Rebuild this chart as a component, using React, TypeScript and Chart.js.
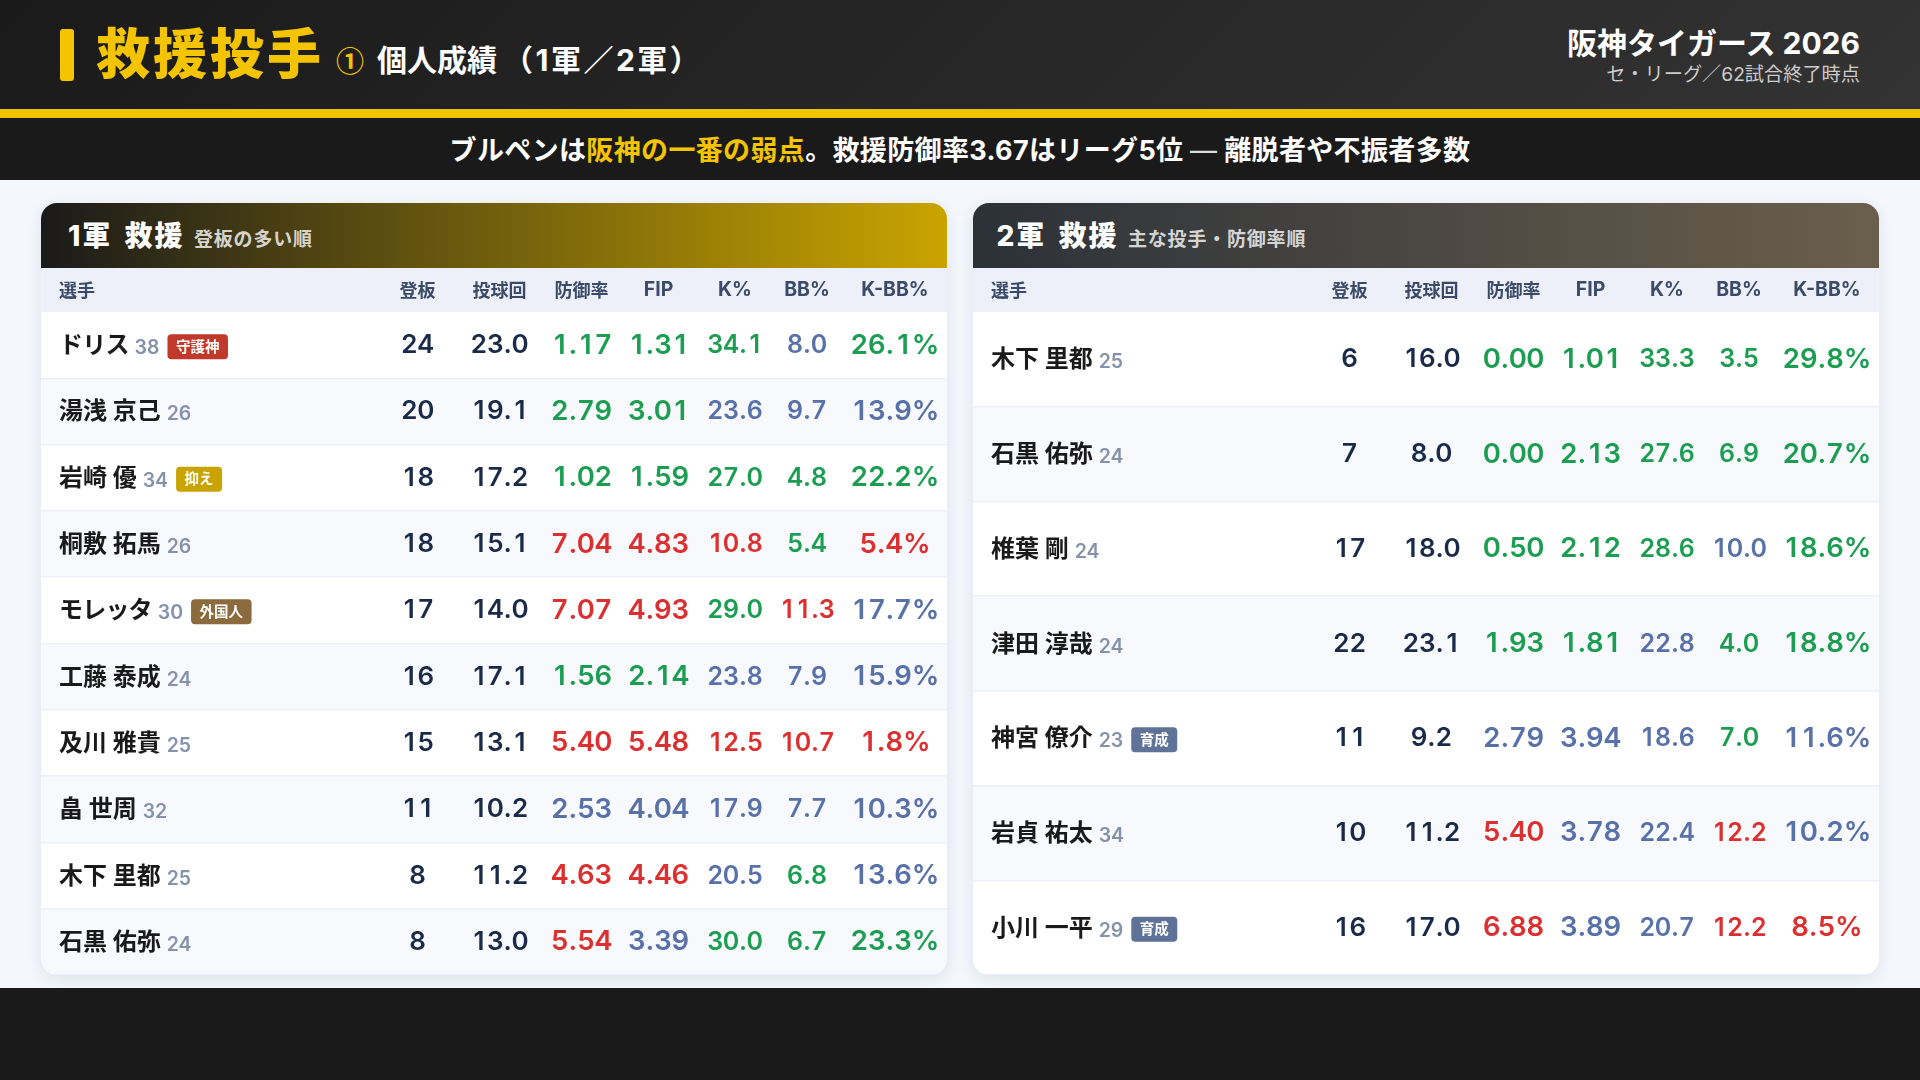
import { useEffect, useRef } from 'react'
import { Chart, registerables, type ChartConfiguration, type Plugin } from 'chart.js'

Chart.register(...registerables)

const FONT = 'Inter, "Noto Sans CJK JP", sans-serif'

const headers = ['選手', '登板', '投球回', '防御率', 'FIP', 'K%', 'BB%', 'K-BB%']

// g = good, b = average, r = bad, one letter per stat column
const firstPlayers = ['ドリス', '湯浅 京己', '岩崎 優', '桐敷 拓馬', 'モレッタ', '工藤 泰成', '及川 雅貴', '畠 世周', '木下 里都', '石黒 佑弥']
const firstAges = [38, 26, 34, 26, 30, 24, 25, 32, 25, 24]
const firstTags = ['守護神', '', '抑え', '', '外国人', '', '', '', '', '']
const firstGames = [24, 20, 18, 18, 17, 16, 15, 11, 8, 8]
const firstInnings = ['23.0', '19.1', '17.2', '15.1', '14.0', '17.1', '13.1', '10.2', '11.2', '13.0']
const firstEra = ['1.17', '2.79', '1.02', '7.04', '7.07', '1.56', '5.40', '2.53', '4.63', '5.54']
const firstFip = ['1.31', '3.01', '1.59', '4.83', '4.93', '2.14', '5.48', '4.04', '4.46', '3.39']
const firstK = ['34.1', '23.6', '27.0', '10.8', '29.0', '23.8', '12.5', '17.9', '20.5', '30.0']
const firstBb = ['8.0', '9.7', '4.8', '5.4', '11.3', '7.9', '10.7', '7.7', '6.8', '6.7']
const firstKbb = ['26.1%', '13.9%', '22.2%', '5.4%', '17.7%', '15.9%', '1.8%', '10.3%', '13.6%', '23.3%']
const firstTones = ['gggbg', 'ggbbb', 'ggggg', 'rrrgr', 'rrgrb', 'ggbbb', 'rrrrr', 'bbbbb', 'rrbgb', 'rbggg']

const secondPlayers = ['木下 里都', '石黒 佑弥', '椎葉 剛', '津田 淳哉', '神宮 僚介', '岩貞 祐太', '小川 一平']
const secondAges = [25, 24, 24, 24, 23, 34, 29]
const secondTags = ['', '', '', '', '育成', '', '育成']
const secondGames = [6, 7, 17, 22, 11, 10, 16]
const secondInnings = ['16.0', '8.0', '18.0', '23.1', '9.2', '11.2', '17.0']
const secondEra = ['0.00', '0.00', '0.50', '1.93', '2.79', '5.40', '6.88']
const secondFip = ['1.01', '2.13', '2.12', '1.81', '3.94', '3.78', '3.89']
const secondK = ['33.3', '27.6', '28.6', '22.8', '18.6', '22.4', '20.7']
const secondBb = ['3.5', '6.9', '10.0', '4.0', '7.0', '12.2', '12.2']
const secondKbb = ['29.8%', '20.7%', '18.6%', '18.8%', '11.6%', '10.2%', '8.5%']
const secondTones = ['ggggg', 'ggggg', 'gggbg', 'ggbgg', 'bbbgb', 'rbbrb', 'rbbrr']

// column centres in px from the left edge of a card
const columnOffsets = [36, 376.5, 458.5, 540.5, 617.5, 694, 766, 854]
const statSizes = [27.5, 27.5, 25, 25, 27.5]
const CARD_WIDTH = 906
const NAME_X = 18

const toneColors: Record<string, string> = { g: '#1c9e52', b: '#5871a8', r: '#dc3030' }
const tagColors: Record<string, string> = {
  守護神: '#c0392b',
  抑え: '#c9a400',
  外国人: '#8b6b3d',
  育成: '#5f7399',
}

// canvas has no tabular-nums, so digits go into fixed slots one by one
function fillTabular(ctx: CanvasRenderingContext2D, text: string, centre: number, base: number) {
  const slot = ctx.measureText('0').width * 0.96
  const advance = (ch: string) => (ch >= '0' && ch <= '9' ? slot : ctx.measureText(ch).width)
  const total = [...text].reduce((sum, ch) => sum + advance(ch), 0)
  let left = centre - total / 2
  ctx.textAlign = 'center'
  for (const ch of text) {
    ctx.fillText(ch, left + advance(ch) / 2, base)
    left += advance(ch)
  }
}

type TableProps = {
  players: string[]
  ages: number[]
  tags: string[]
  games: number[]
  innings: string[]
  era: string[]
  fip: string[]
  k: string[]
  bb: string[]
  kbb: string[]
  tones: string[]
}

function StatsTable(props: TableProps) {
  const canvasRef = useRef<HTMLCanvasElement | null>(null)

  useEffect(() => {
    if (!canvasRef.current) return
    const { players, ages, tags, games, innings, era, fip, k, bb, kbb, tones } = props

    const cellText: Plugin<'bar'> = {
      id: 'cellText',
      afterDatasetsDraw(chart) {
        const { ctx, scales } = chart
        ctx.save()
        players.forEach((name, row) => {
          const base = scales.y.getPixelForValue(row) + 8

          // name, age and optional tag run on from each other
          ctx.textAlign = 'left'
          ctx.textBaseline = 'alphabetic'
          ctx.font = `700 24px ${FONT}`
          ctx.fillStyle = '#1a1a1a'
          // katakana sets tighter than kanji in the original
          ctx.letterSpacing = /[ァ-ヶ]/.test(name) ? '-0.8px' : '0px'
          let left = NAME_X
          ctx.fillText(name, left, base)
          left += ctx.measureText(name).width + 6
          ctx.letterSpacing = '0px'
          ctx.font = `600 19.5px ${FONT}`
          ctx.fillStyle = '#8492ab'
          ctx.fillText(String(ages[row]), left, base + 1)
          left += ctx.measureText(String(ages[row])).width + 8

          const tag = tags[row]
          if (tag) {
            ctx.font = `700 14.5px ${FONT}`
            const width = ctx.measureText(tag).width + 17
            ctx.fillStyle = tagColors[tag]
            ctx.beginPath()
            ctx.roundRect(left, base - 19, width, 25, 4)
            ctx.fill()
            ctx.fillStyle = '#ffffff'
            ctx.textAlign = 'center'
            ctx.fillText(tag, left + width / 2, base - 1.5)
          }

          ctx.font = `600 26px ${FONT}`
          ctx.fillStyle = '#1a2b4a'
          fillTabular(ctx, String(games[row]), scales.x.getPixelForValue(columnOffsets[1]), base)
          fillTabular(ctx, innings[row], scales.x.getPixelForValue(columnOffsets[2]), base)
          ;[era, fip, k, bb, kbb].forEach((column, c) => {
            ctx.font = `600 ${statSizes[c]}px ${FONT}`
            ctx.fillStyle = toneColors[tones[row][c]]
            fillTabular(ctx, column[row], scales.x.getPixelForValue(columnOffsets[c + 3]), base + (statSizes[c] > 26 ? 0.5 : 0))
          })
        })
        ctx.restore()
      },
    }

    const config: ChartConfiguration<'bar'> = {
      type: 'bar',
      data: {
        labels: players,
        datasets: [
          {
            // full width bars are the striped rows
            data: players.map(() => CARD_WIDTH),
            backgroundColor: players.map((_, i) => (i % 2 ? '#f8f9fd' : '#ffffff')),
            borderWidth: 0,
            barPercentage: 1,
            categoryPercentage: 1,
          },
        ],
      },
      options: {
        indexAxis: 'y',
        responsive: false,
        animation: false,
        layout: { padding: 0 },
        plugins: { legend: { display: false }, tooltip: { enabled: false } },
        scales: {
          x: {
            type: 'linear',
            position: 'top',
            min: 0,
            max: CARD_WIDTH,
            grid: { display: false, drawTicks: false },
            border: { display: false },
            afterBuildTicks: scale => {
              scale.ticks = columnOffsets.map(value => ({ value }))
            },
            afterFit: scale => {
              scale.height = 44
            },
            ticks: {
              autoSkip: false,
              maxRotation: 0,
              padding: 10,
              color: '#3a4a68',
              // the latin headers read larger than the kanji ones
              font: c => ({ family: FONT, size: c.index >= 4 ? 19.5 : 18, weight: 700 }),
              callback: (_, i) => headers[i],
            },
          },
          y: {
            afterFit: scale => {
              scale.width = 0
            },
            border: { display: false },
            grid: {
              offset: true,
              drawTicks: false,
              z: 1,
              lineWidth: 1.5,
              color: c => (c.index === 0 ? 'transparent' : '#edf0f6'),
            },
            ticks: { display: false },
          },
        },
      },
      plugins: [cellText],
    }

    const chart = new Chart(canvasRef.current, config)
    return () => chart.destroy()
  }, [props])

  return (
    <canvas
      ref={canvasRef}
      width={CARD_WIDTH}
      height={707}
      role="img"
      aria-label={`救援投手の個人成績、${props.players.length}人`}
      style={{ display: 'block' }}
    />
  )
}

const firstTable = {
  players: firstPlayers,
  ages: firstAges,
  tags: firstTags,
  games: firstGames,
  innings: firstInnings,
  era: firstEra,
  fip: firstFip,
  k: firstK,
  bb: firstBb,
  kbb: firstKbb,
  tones: firstTones,
}

const secondTable = {
  players: secondPlayers,
  ages: secondAges,
  tags: secondTags,
  games: secondGames,
  innings: secondInnings,
  era: secondEra,
  fip: secondFip,
  k: secondK,
  bb: secondBb,
  kbb: secondKbb,
  tones: secondTones,
}

function Card({ left, titleLeft, gradient, title, note, table }: { left: number; titleLeft: number; gradient: string; title: string; note: string; table: TableProps }) {
  return (
    <div
      style={{
        position: 'absolute',
        left,
        top: 203,
        width: CARD_WIDTH,
        height: 772,
        borderRadius: 16,
        overflow: 'hidden',
        background: '#edf0f8',
        boxShadow: '0 4px 16px rgba(30,50,90,0.1)',
      }}
    >
      <div style={{ height: 65, background: gradient, color: '#fff', display: 'flex', alignItems: 'baseline', paddingLeft: titleLeft, lineHeight: '67px' }}>
        <span style={{ fontSize: 28, fontWeight: 800, letterSpacing: 2, wordSpacing: 4 }}>{title}</span>
        <span style={{ fontSize: 19, fontWeight: 700, letterSpacing: 0.8, marginLeft: 9.5, color: 'rgba(255,255,255,0.8)' }}>{note}</span>
      </div>
      <StatsTable {...table} />
    </div>
  )
}

export default function App() {
  return (
    <div style={{ position: 'relative', width: 1920, height: 1080, overflow: 'hidden', background: '#f4f7fc', fontFamily: FONT }}>
      <style>{'body{margin:0}'}</style>
      <div style={{ position: 'absolute', left: 0, top: 0, width: 1920, height: 109, background: 'linear-gradient(135deg,#1a1a1a,#333333)' }} />
      <div style={{ position: 'absolute', left: 60, top: 29, width: 14, height: 52, borderRadius: 3, background: '#f5c400' }} />
      <div style={{ position: 'absolute', left: 96, top: 21, fontSize: 54, lineHeight: '68px', fontWeight: 900, letterSpacing: 3, color: '#f5c400' }}>救援投手</div>
      <div style={{ position: 'absolute', left: 336, top: 40, fontFamily: '"Noto Sans CJK JP"', fontSize: 28, lineHeight: '40px', fontWeight: 700, color: '#f5c400' }}>①</div>
      <div style={{ position: 'absolute', left: 377, top: 40, fontSize: 30, lineHeight: '40px', fontWeight: 700, color: '#fff' }}>個人成績</div>
      <div style={{ position: 'absolute', left: 503, top: 40, fontSize: 30, lineHeight: '40px', fontWeight: 700, letterSpacing: 2.5, color: '#fff' }}>（1軍／2軍）</div>
      <div style={{ position: 'absolute', right: 60, top: 23, fontSize: 30, lineHeight: '40px', fontWeight: 700, color: '#fff' }}>阪神タイガース 2026</div>
      <div style={{ position: 'absolute', right: 60, top: 61, fontSize: 19.2, lineHeight: '26px', color: '#cccccc' }}>セ・リーグ／62試合終了時点</div>

      <div style={{ position: 'absolute', left: 0, top: 109, width: 1920, height: 9, background: '#f5c400' }} />
      <div style={{ position: 'absolute', left: 0, top: 118, width: 1920, height: 62, lineHeight: '66px', background: '#1a1a1a', color: '#fff', textAlign: 'center', fontSize: 27, fontWeight: 700, letterSpacing: 0.35 }}>
        ブルペンは<span style={{ color: '#f5c400' }}>阪神の一番の弱点</span>。救援防御率3.67はリーグ5位 <span style={{ fontWeight: 400, color: '#dddddd' }}>—</span> 離脱者や不振者多数
      </div>

      <Card left={41} titleLeft={27} gradient="linear-gradient(90deg,#1a1a1a,#c9a400)" title="1軍 救援" note="登板の多い順" table={firstTable} />
      <Card left={973} titleLeft={23.5} gradient="linear-gradient(90deg,#2c3138,#6b5f4c)" title="2軍 救援" note="主な投手・防御率順" table={secondTable} />

      <div style={{ position: 'absolute', left: 0, top: 988, width: 1920, height: 92, background: '#1a1a1a' }} />
    </div>
  )
}
